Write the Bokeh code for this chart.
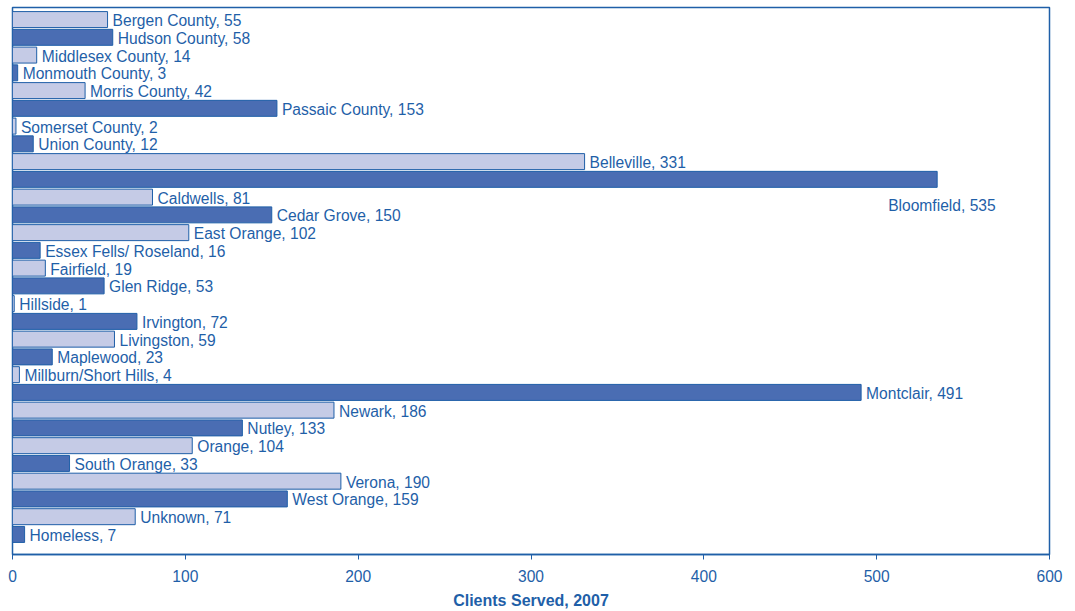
from bokeh.plotting import figure
from bokeh.models import ColumnDataSource, Range1d, FixedTicker
from bokeh.core.properties import value
from bokeh.embed import file_html
from bokeh.resources import INLINE

names = ["Bergen County", "Hudson County", "Middlesex County", "Monmouth County",
         "Morris County", "Passaic County", "Somerset County", "Union County",
         "Belleville", "Bloomfield", "Caldwells", "Cedar Grove", "East Orange",
         "Essex Fells/ Roseland", "Fairfield", "Glen Ridge", "Hillside", "Irvington",
         "Livingston", "Maplewood", "Millburn/Short Hills", "Montclair", "Newark",
         "Nutley", "Orange", "South Orange", "Verona", "West Orange", "Unknown", "Homeless"]
clients = [55, 58, 14, 3, 42, 153, 2, 12, 331, 535, 81, 150, 102, 16, 19, 53, 1, 72,
           59, 23, 4, 491, 186, 133, 104, 33, 190, 159, 71, 7]
x_ticks = [0, 100, 200, 300, 400, 500, 600]

BLUE = "#1f5fa8"
LIGHT = "#c5cbe6"
DARK = "#4a6db3"

idx = list(range(len(names)))
fills = [LIGHT if i % 2 == 0 else DARK for i in idx]
labels = [f"{n}, {v}" for n, v in zip(names, clients)]
# label pixel offsets (Bloomfield label is displaced below its bar)
xoff = [5 if n != "Bloomfield" else -49 for n in names]
yoff = [1 if n != "Bloomfield" else 26 for n in names]

src = ColumnDataSource(dict(y=idx, v=clients, fill=fills, label=labels, xoff=xoff, yoff=yoff))

p = figure(width=1075, height=611, output_backend="svg", toolbar_location=None,
           x_range=Range1d(0, 600), y_range=Range1d(30.13, -0.68),
           y_axis_location=None, min_border_left=12, min_border_right=26,
           min_border_top=7, min_border_bottom=57)
p.grid.visible = False
p.outline_line_color = BLUE
p.outline_line_width = 1.5
p.background_fill_color = "white"

p.hbar(y="y", left=0, right="v", height=0.9, fill_color="fill", line_color=BLUE,
       line_width=1, source=src)
p.text(x="v", y="y", text="label", x_offset="xoff", y_offset="yoff", source=src,
       text_font=value("Liberation Sans"), text_font_size="15.6px", text_color=BLUE,
       text_baseline="middle", text_align="left")

ax = p.xaxis[0]
ax.ticker = FixedTicker(ticks=x_ticks)
ax.axis_line_color = BLUE
ax.axis_line_width = 1.5
ax.major_tick_line_color = BLUE
ax.major_tick_out = 5
ax.major_tick_in = 0
ax.minor_tick_line_color = None
ax.major_label_text_color = BLUE
ax.major_label_text_font = "Liberation Sans"
ax.major_label_text_font_size = "15.6px"
ax.major_label_standoff = 10
ax.axis_label = "Clients Served, 2007"
ax.axis_label_text_color = BLUE
ax.axis_label_text_font = "Liberation Sans"
ax.axis_label_text_font_style = "bold"
ax.axis_label_text_font_size = "16px"
ax.axis_label_standoff = 7

open("out.html", "w").write(file_html(p, INLINE))
